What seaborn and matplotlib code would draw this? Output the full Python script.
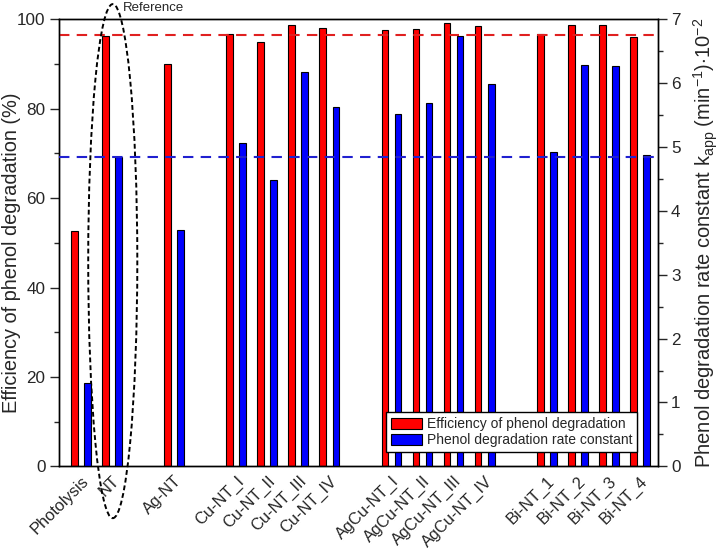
import numpy as np
import pandas as pd
import seaborn as sns
import matplotlib
matplotlib.use("Agg")
import matplotlib.pyplot as plt
from matplotlib.patches import Ellipse, Patch

sns.set_style("ticks")
plt.rcParams['font.family'] = ['Liberation Sans', 'DejaVu Sans']
plt.rcParams['mathtext.fontset'] = 'custom'
plt.rcParams['mathtext.rm'] = 'Liberation Sans'
plt.rcParams['mathtext.it'] = 'Liberation Sans:italic'

# ---- data ----
samples = ["Photolysis", "NT", "Ag-NT",
           "Cu-NT_I", "Cu-NT_II", "Cu-NT_III", "Cu-NT_IV",
           "AgCu-NT_I", "AgCu-NT_II", "AgCu-NT_III", "AgCu-NT_IV",
           "Bi-NT_1", "Bi-NT_2", "Bi-NT_3", "Bi-NT_4"]
efficiency = [52.6, 96.3, 89.9,
              96.7, 95.0, 98.7, 98.1,
              97.5, 97.9, 99.1, 98.4,
              96.7, 98.7, 98.7, 96.1]
rate_const = [1.30, 4.84, 3.70,
              5.07, 4.49, 6.18, 5.63,
              5.52, 5.69, 6.74, 5.98,
              4.92, 6.28, 6.27, 4.88]
# category order with empty slots between groups
order = ["Photolysis", "NT", "_g1", "Ag-NT", "_g2",
         "Cu-NT_I", "Cu-NT_II", "Cu-NT_III", "Cu-NT_IV", "_g3",
         "AgCu-NT_I", "AgCu-NT_II", "AgCu-NT_III", "AgCu-NT_IV", "_g4",
         "Bi-NT_1", "Bi-NT_2", "Bi-NT_3", "Bi-NT_4"]
ref_eff = 96.5
ref_rate = 4.84
series_names = ["Efficiency of phenol degradation", "Phenol degradation rate constant"]

df_eff = pd.DataFrame({"sample": samples, "value": efficiency, "series": series_names[0]})
df_k = pd.DataFrame({"sample": samples, "value": rate_const, "series": series_names[1]})
palette = {series_names[0]: "#ff0000", series_names[1]: "#0000ff"}

fig = plt.figure(figsize=(7.22, 5.58), dpi=100)
ax = fig.add_axes([0.0813, 0.1643, 0.8297, 0.8011])
ax2 = ax.twinx()

common = dict(x="sample", y="value", hue="series", order=order,
              hue_order=series_names, palette=palette, dodge=True,
              width=0.84, gap=0.49, saturation=1, errorbar=None,
              edgecolor="black", linewidth=0.8, legend=False)
sns.barplot(data=df_eff, ax=ax, **common)
sns.barplot(data=df_k, ax=ax2, **common)

ax.set_xlim(-0.71, 18.57)
ax.set_ylim(0, 100)
ax2.set_ylim(0, 7)

ax.axhline(ref_eff, color="#e02020", ls=(0, (5, 3.5)), lw=1.5, zorder=5)
ax2.axhline(ref_rate, color="#2020d0", ls=(0, (5, 3.5)), lw=1.5, zorder=5)

ax.set_yticks([0, 20, 40, 60, 80, 100])
ax.set_yticks([10, 30, 50, 70, 90], minor=True)
ax2.set_yticks(range(0, 8))
ax2.set_yticks(np.arange(0.5, 7, 1.0), minor=True)

labels = [s if not s.startswith("_") else "" for s in order]
ax.set_xticks(range(len(order)))
ax.set_xticklabels(labels, rotation=45, ha="right", rotation_mode="anchor", fontsize=11.8)
ax.tick_params(axis="x", length=0, pad=5)
ax.tick_params(axis="y", which="major", direction="out", length=6.5, width=1, labelsize=12.3, pad=3)
ax.tick_params(axis="y", which="minor", direction="out", length=3.5, width=1)
ax2.tick_params(axis="y", which="major", direction="out", length=6.5, width=1, labelsize=12.3, pad=3)
ax2.tick_params(axis="y", which="minor", direction="out", length=3.5, width=1)

for a in (ax, ax2):
    for sp in a.spines.values():
        sp.set_visible(True)
        sp.set_color("black")
        sp.set_linewidth(1.0)

ax.set_xlabel("")
ax.set_ylabel("Efficiency of phenol degradation (%)", fontsize=14.4)
ax.yaxis.set_label_coords(-0.063, 0.478)
ax2.set_ylabel(r"Phenol degradation rate constant k$_{\mathrm{app}}$ (min$^{-1}$)$\cdot$10$^{-2}$",
               fontsize=14.5)
ax2.yaxis.set_label_coords(1.056, 0.5)

# reference ellipse around NT
ell = Ellipse((1.03, 45.9), width=1.58, height=115, fill=False, edgecolor="black",
              ls=(0, (2.5, 1.5)), lw=1.4, clip_on=False, zorder=6)
ax.add_patch(ell)
ax.text(1.35, 102.6, "Reference", fontsize=9.5, ha="left", va="center", clip_on=False)

handles = [Patch(facecolor=palette[s], edgecolor="black", linewidth=0.8) for s in series_names]
ax2.set_zorder(ax.get_zorder() + 1)
ax2.patch.set_visible(False)
leg = ax2.legend(handles, series_names, loc="lower right", bbox_to_anchor=(0.9655, 0.032),
                 fontsize=10, frameon=True, fancybox=False, framealpha=1,
                 edgecolor="black", borderpad=0.35, handlelength=2.2, handleheight=0.8,
                 handletextpad=0.35, labelspacing=0.15, borderaxespad=0)
leg.get_frame().set_linewidth(1.0)

fig.savefig("out.png", dpi=100)
